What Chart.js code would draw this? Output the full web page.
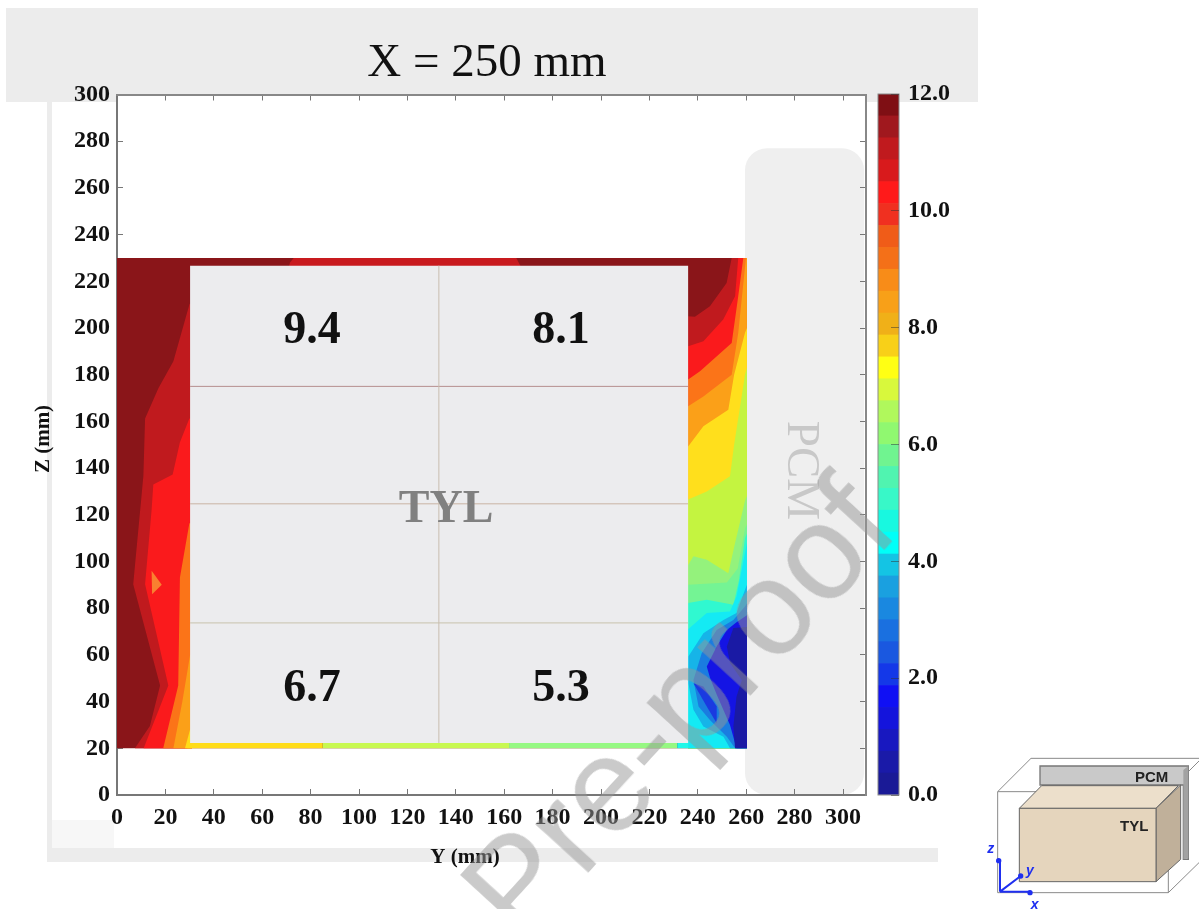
<!DOCTYPE html>
<html>
<head>
<meta charset="utf-8">
<title>X = 250 mm</title>
<script src="https://cdn.jsdelivr.net/npm/chart.js@4/dist/chart.umd.min.js"></script>
<style>
  html, body { margin: 0; padding: 0; background: #fff; }
  #page { position: relative; width: 1199px; height: 909px; overflow: hidden; }
  #mainBox { position: absolute; left: 0; top: 0; width: 1199px; height: 909px; }
  #barBox { position: absolute; left: 870px; top: 62px; width: 130px; height: 768px; }
  #inset { position: absolute; left: 970px; top: 740px; width: 229px; height: 169px; filter: blur(0.4px); }
  #watermark {
    position: absolute; left: 677px; top: 707px; white-space: nowrap;
    font: 135px "Liberation Sans", sans-serif; color: rgba(150, 150, 150, 0.5);
    transform: translate(-50%, -50%) rotate(-47.5deg);
  }
</style>
</head>
<body>
<div id="page">
  <div id="mainBox"><canvas id="mainChart"></canvas></div>
  <div id="barBox"><canvas id="barChart"></canvas></div>
  <svg id="inset" viewBox="0 0 687 507">
    <g fill="none" stroke="#8a8a8a" stroke-width="3">
      <path d="M83 155H595V458H83Z"/>
      <path d="M83 155L183 55H690M595 155L690 60M595 458L690 365"/>
    </g>
    <path d="M210 78H655V358H640V135H210Z" fill="#c9c9c9" stroke="#777" stroke-width="4"/>
    <path d="M640 90L655 78V355L640 358Z" fill="#a2a2a2"/>
    <path d="M148 205L215 137H625L558 205Z" fill="#ecdfcb" stroke="#666" stroke-width="3"/>
    <path d="M558 205L632 135V358L558 425Z" fill="#c0b09a" stroke="#666" stroke-width="3"/>
    <path d="M148 205H558V425H148Z" fill="#e5d5bd" stroke="#666" stroke-width="3"/>
    <path d="M90 455V362M90 455L152 408M90 455H182" fill="none" stroke="#1f2ff0" stroke-width="6"/>
    <g fill="#1f2ff0">
      <circle cx="86" cy="362" r="8"/><circle cx="152" cy="408" r="8"/><circle cx="180" cy="458" r="8"/>
    </g>
    <g font-family="'Liberation Sans', sans-serif" font-size="45" fill="#222" font-weight="bold">
      <text x="495" y="127">PCM</text>
      <text x="450" y="273">TYL</text>
    </g>
    <g font-family="'Liberation Sans', sans-serif" font-size="42" font-weight="bold" font-style="italic" fill="#1f2ff0">
      <text x="52" y="340">z</text>
      <text x="168" y="405">y</text>
      <text x="182" y="507">x</text>
    </g>
  </svg>
  <div id="watermark">Pre-proof</div>
</div>

<script>
// Ejes (mm)
const axisTicks = { yMax: 309.5, zMax: 300, step: 20 };

// Valores medidos sobre TYL
const boxValues = ['9.4', '8.1', '6.7', '5.3'];
const boxValueY = [80.6, 183.5, 80.6, 183.5];
const boxValueZ = [198.8, 198.8, 45.5, 45.5];

// Rejilla dentro del bloque TYL
const tylGridZ = [175, 124.7, 73.7];
const tylGridY = [133];
const tylGridColors = ['#b58f8f', '#c9b3a3', '#c8c2ac', '#c9bdb0'];

// Contornos, de [y, z] en mm
const baseArea = [[0, 20], [260.3, 20], [260.3, 230], [0, 230]];

const leftBand1 = [[30, 210.4], [23.3, 185.8], [17.1, 174.2], [11.6, 161.2], [10.9, 136.6], [6.7, 90.3], [17.8, 46.9], [13.6, 29.6], [7.4, 20], [31, 20], [31, 210.4]];
const leftBand2 = [[29.9, 161.2], [26, 151.1], [23, 137.3], [15, 133], [14.3, 122.2], [11.6, 90.3], [21.2, 46.9], [11, 20], [31, 20], [31, 161.2]];
const leftBand3 = [[29.9, 116.4], [26, 93.2], [25.3, 46.9], [19.1, 20], [31, 20], [31, 116.4]];
const leftBand4 = [[30.2, 60], [27, 40], [23.3, 20], [31, 20], [31, 60]];
const leftBand5 = [[30.2, 28], [28.1, 20], [31, 20], [31, 28]];
const leftSpot = [[14.3, 96], [18.5, 90], [14.5, 86]];

const rightBand1 = [[236, 205], [238.8, 204.8], [245, 209.3], [251.9, 219.3], [254, 230], [260.3, 230], [260.3, 20], [236, 20]];
const rightBand2 = [[236, 192.2], [242.3, 194.3], [250.5, 203.6], [255.4, 213.6], [256.7, 230], [260.3, 230], [260.3, 20], [236, 20]];
const rightBand3 = [[236, 177.9], [240.9, 181.5], [254, 193.6], [256.7, 213.6], [258.8, 230], [260.3, 230], [260.3, 20], [236, 20]];
const rightBand4 = [[236, 166.5], [242.3, 170.7], [254, 180], [256.7, 197.9], [259.9, 230], [260.3, 230], [260.3, 20], [236, 20]];
const rightBand5 = [[236, 149.3], [242.3, 157.9], [252.6, 165], [255, 180], [259.5, 198], [260.3, 200], [260.3, 20], [236, 20]];
const rightBand6 = [[236, 126.5], [243.7, 130], [253.3, 136.5], [255, 150], [259.5, 180], [260.3, 183], [260.3, 20], [236, 20]];
const rightBand7 = [[236, 98.5], [238.2, 102.2], [243.7, 100.7], [252.6, 95], [255.4, 107.9], [259.5, 126], [260.3, 128], [260.3, 20], [236, 20]];
const rightBand8 = [[236, 90], [252, 91], [256.5, 97], [259.5, 114], [260.3, 116], [260.3, 20], [236, 20]];
const rightBand9 = [[236, 82.2], [243.7, 83.6], [254.7, 81.5], [257, 92], [259.5, 110], [260.3, 112], [260.3, 20], [236, 20]];
const rightBand10 = [[236, 71], [243.7, 77.9], [253.3, 78.6], [256, 85], [259.9, 106], [260.3, 108], [260.3, 20], [236, 20]];
const rightBand11 = [[236.1, 59.3], [242.3, 69.3], [250.6, 75], [256, 77.9], [259.5, 87.9], [260.3, 90], [260.3, 20], [253.3, 20], [250.6, 25], [242.3, 29.3], [238.2, 36.5], [236.1, 47.9]];
const rightBand12 = [[238.2, 49.3], [241.6, 60.7], [247.8, 70.7], [254.7, 75], [259.5, 80.7], [260.3, 82], [260.3, 20], [255.4, 20], [252, 25], [245.1, 32], [240.3, 37.9]];
const rightBand13 = [[243.7, 55], [248, 64], [252, 70.7], [256, 74], [260.3, 77], [260.3, 20], [256, 20], [253.3, 30], [247.8, 43], [245.1, 50]];
const rightBand14 = [[260.3, 72], [254.7, 71.5], [252, 63.6], [253.3, 56.5], [258.2, 49.3], [256, 42.2], [254.7, 29.3], [255.4, 20], [260.3, 20]];
const rightLobe = [[238.2, 47.9], [243.7, 37.9], [247.8, 30.7], [247.8, 37.9], [242.3, 46.5]];

const topStrip = [[71, 226], [71.5, 228], [73, 230], [165, 230], [167, 226]];
const bottomStrip1 = [[29, 20], [85, 20], [85, 23], [29, 23]];
const bottomStrip2 = [[85, 20], [162, 20], [162, 23], [85, 23]];
const bottomStrip3 = [[162, 20], [231.5, 20], [231.5, 23], [162, 23]];
const bottomStrip4 = [[231.5, 20], [236, 20], [236, 23], [231.5, 23]];

const tylBox = [[30.2, 22.3], [236, 22.3], [236, 226.7], [30.2, 226.7]];

// Barra de color, de abajo arriba
const barColors = [
    '#1a1a96', '#1a1aa8', '#1818c0', '#1414dc', '#1010f4', '#1438e8', '#1a58e0', '#1a70e0',
    '#1a88e0', '#1aa0e0', '#14c4e4', '#00fff8', '#18f8e0', '#38f8c8', '#50f4b0', '#70f490',
    '#90f870', '#b0f85c', '#d8f83c', '#ffff14', '#f8d018', '#f0b018', '#f8a018', '#f88c18',
    '#f47018', '#f05c18', '#f03020', '#ff1a1a', '#d81a1c', '#c01a1e', '#a0181e', '#7f0f14'
];
const barBandWidth = 0.375;
const barTickStep = 2;

function area(outline, color) {
    return {
        data: outline.map(p => ({ x: p[0], y: p[1] })),
        backgroundColor: color,
        borderWidth: 0,
        pointRadius: 0,
        tension: 0,
        fill: 'shape'
    };
}

function rule(a, b, color) {
    return {
        data: [{ x: a[0], y: a[1] }, { x: b[0], y: b[1] }],
        borderColor: color,
        borderWidth: 1,
        pointRadius: 0,
        fill: false
    };
}

// Orden de pintado: lo ultimo queda encima
const layers = [
    area(baseArea, '#8a1519'),
    area(leftBand1, '#c01a1e'),
    area(leftBand2, '#fa1a1c'),
    area(leftBand3, '#fb7418'),
    area(leftBand4, '#fba018'),
    area(leftBand5, '#ffdc18'),
    area(leftSpot, '#f98030'),
    area(rightBand1, '#c01a1e'),
    area(rightBand2, '#fa1a1c'),
    area(rightBand3, '#fb7418'),
    area(rightBand4, '#fba018'),
    area(rightBand5, '#ffdf1c'),
    area(rightBand6, '#c4f440'),
    area(rightBand7, '#94f27c'),
    area(rightBand8, '#74f494'),
    area(rightBand9, '#30f8d0'),
    area(rightBand10, '#14eaf4'),
    area(rightBand11, '#16b4e8'),
    area(rightBand12, '#1a7ce0'),
    area(rightBand13, '#1414e4'),
    area(rightBand14, '#1a1aa4'),
    area(rightLobe, '#1a3ae0'),
    area(topStrip, '#c81a1e'),
    area(bottomStrip1, '#ffdc18'),
    area(bottomStrip2, '#c8f850'),
    area(bottomStrip3, '#96f882'),
    area(bottomStrip4, '#20f8e8'),
    area(tylBox, '#ececee'),
    rule([30.2, tylGridZ[0]], [236, tylGridZ[0]], tylGridColors[0]),
    rule([30.2, tylGridZ[1]], [236, tylGridZ[1]], tylGridColors[1]),
    rule([30.2, tylGridZ[2]], [236, tylGridZ[2]], tylGridColors[2]),
    rule([tylGridY[0], 22.3], [tylGridY[0], 226.7], tylGridColors[3])
].reverse();

const serif = "'Liberation Serif', serif";

const decoration = {
    id: 'decoration',
    beforeDraw(chart) {
        const { ctx, chartArea, scales } = chart;
        ctx.save();
        // Restos de fondo gris de la figura original
        ctx.fillStyle = '#ececec';
        ctx.fillRect(6, 8, 972, 94);
        ctx.fillRect(47, 102, 5, 760);
        ctx.fillRect(47, 848, 891, 14);
        ctx.fillStyle = '#f7f7f7';
        ctx.fillRect(52, 820, 62, 28);
        ctx.fillStyle = '#fff';
        ctx.fillRect(chartArea.left, chartArea.top, chartArea.width, chartArea.height);
        // Bloque PCM
        const x0 = scales.x.getPixelForValue(259.5);
        const x1 = scales.x.getPixelForValue(308.7);
        const y0 = scales.y.getPixelForValue(277);
        const y1 = scales.y.getPixelForValue(0);
        ctx.fillStyle = '#efefef';
        ctx.beginPath();
        ctx.roundRect(x0, y0, x1 - x0, y1 - y0, 22);
        ctx.fill();
        ctx.restore();
    },
    afterDraw(chart) {
        const { ctx, scales } = chart;
        ctx.save();
        ctx.textAlign = 'center';
        ctx.textBaseline = 'middle';
        ctx.fillStyle = '#111';
        ctx.font = '47px ' + serif;
        ctx.fillText('X = 250 mm', 487, 64);
        ctx.font = 'bold 21px ' + serif;
        ctx.fillText('Y (mm)', 465, 858);
        ctx.save();
        ctx.translate(44, 439);
        ctx.rotate(-Math.PI / 2);
        ctx.fillText('Z (mm)', 0, 0);
        ctx.restore();
        ctx.font = 'bold 46px ' + serif;
        boxValues.forEach((v, i) => {
            ctx.fillText(v, scales.x.getPixelForValue(boxValueY[i]), scales.y.getPixelForValue(boxValueZ[i]));
        });
        ctx.fillStyle = '#808080';
        ctx.fillText('TYL', scales.x.getPixelForValue(136), scales.y.getPixelForValue(122));
        ctx.save();
        ctx.translate(scales.x.getPixelForValue(282.5), scales.y.getPixelForValue(139));
        ctx.rotate(Math.PI / 2);
        ctx.fillStyle = '#c8c8c8';
        ctx.font = '47px ' + serif;
        ctx.fillText('PCM', 0, 0);
        ctx.restore();
        ctx.restore();
    }
};

const tickFont = { family: serif, size: 24, weight: 'bold' };

// Ejes espejo: solo marcas hacia dentro
function mirrorAxis(position, max) {
    return {
        type: 'linear',
        position,
        min: 0,
        max,
        ticks: { display: false, stepSize: axisTicks.step, includeBounds: false },
        grid: { drawOnChartArea: false, tickLength: -6, color: '#777' },
        border: { color: '#888', width: 2 },
        afterFit(scale) {
            if (position === 'top') scale.height = 0;
            else scale.width = 0;
        }
    };
}

new Chart(document.getElementById('mainChart'), {
    type: 'line',
    data: { datasets: layers },
    options: {
        responsive: true,
        maintainAspectRatio: false,
        animation: false,
        layout: { padding: { left: 47, right: 333, top: 94.5, bottom: 74 } },
        plugins: { legend: { display: false }, tooltip: { enabled: false } },
        scales: {
            x: {
                type: 'linear',
                position: 'bottom',
                min: 0,
                max: axisTicks.yMax,
                ticks: { stepSize: axisTicks.step, includeBounds: false, font: tickFont, color: '#111', padding: 14, maxRotation: 0, autoSkip: false },
                grid: { drawOnChartArea: false, tickLength: -6, color: '#777' },
                border: { color: '#777', width: 2 },
                afterFit(scale) { scale.height = 40; }
            },
            y: {
                type: 'linear',
                position: 'left',
                min: 0,
                max: axisTicks.zMax,
                ticks: { stepSize: axisTicks.step, font: tickFont, color: '#111', padding: 13, autoSkip: false },
                grid: { drawOnChartArea: false, tickLength: -6, color: '#777' },
                border: { color: '#777', width: 2 },
                afterFit(scale) { scale.width = 70; }
            },
            x2: mirrorAxis('top', axisTicks.yMax),
            y2: mirrorAxis('right', axisTicks.zMax)
        }
    },
    plugins: [decoration]
});

const barFrame = {
    id: 'barFrame',
    afterDatasetsDraw(chart) {
        const { ctx, chartArea } = chart;
        ctx.save();
        ctx.strokeStyle = '#8a8a8a';
        ctx.strokeRect(chartArea.left, chartArea.top, chartArea.width, chartArea.height);
        ctx.restore();
    }
};

new Chart(document.getElementById('barChart'), {
    type: 'bar',
    data: {
        labels: [''],
        datasets: barColors.map(c => ({
            data: [barBandWidth],
            backgroundColor: c,
            borderWidth: 0,
            categoryPercentage: 1,
            barPercentage: 1
        }))
    },
    options: {
        responsive: true,
        maintainAspectRatio: false,
        animation: false,
        layout: { padding: { left: 8, right: 0, top: 32, bottom: 35 } },
        plugins: { legend: { display: false }, tooltip: { enabled: false } },
        scales: {
            x: { display: false, stacked: true },
            y: {
                position: 'right',
                stacked: true,
                min: 0,
                max: 12,
                ticks: {
                    stepSize: barTickStep,
                    font: tickFont,
                    color: '#111',
                    padding: 17,
                    callback: v => v.toFixed(1)
                },
                grid: { drawOnChartArea: false, tickLength: -8, color: 'rgba(50,50,50,0.5)', z: 1 },
                border: { display: false },
                afterFit(scale) { scale.width = 101; }
            }
        }
    },
    plugins: [barFrame]
});
</script>
</body>
</html>
